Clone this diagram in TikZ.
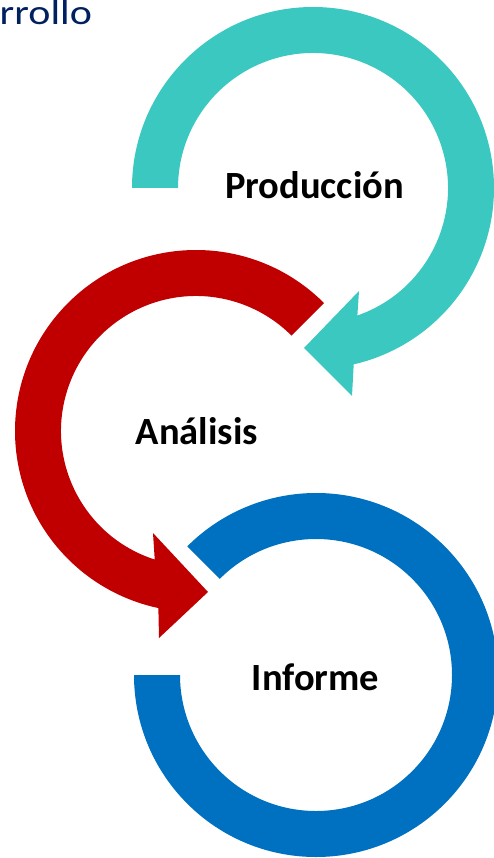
\documentclass[tikz,border=0pt]{standalone}
\usepackage{fontspec}
\setmainfont{Carlito}
\usetikzlibrary{calc}
\definecolor{tealc}{HTML}{3BC8C0}
\definecolor{redc}{HTML}{C00000}
\definecolor{bluec}{HTML}{0070C0}
\definecolor{navyc}{HTML}{002060}
\begin{document}
\begin{tikzpicture}[x=1pt,y=1pt,
  lbl/.style={font=\fontsize{38.5}{42}\selectfont\bfseries, text=black, inner sep=0pt, anchor=base}]
\useasboundingbox (0,0) rectangle (494,-858);
\clip (0,0) rectangle (494,-858);
% title fragment
\node[anchor=base west, inner sep=0pt, text=navyc, xscale=1.2, font=\fontsize{35}{38}\selectfont] (title) at (-0.5,-25) {rrollo};
% teal ring with arrow (center 313,188)
\fill[tealc] (132,-188) arc[start angle=180, end angle=-77, radius=181]
  -- (352,-396) -- (304,-348) -- (359,-291)
  -- ($(313,-188)+(-70.8:135)$) arc[start angle=-70.8, end angle=180, radius=135] -- cycle;
% red ring with arrow (center 196,431)
\fill[redc] ($(196,-431)+(45:181)$) arc[start angle=45, end angle=258, radius=181]
  -- (159,-638) -- (208,-592) -- (153,-533)
  -- ($(196,-431)+(252.2:135)$) arc[start angle=252.2, end angle=45, radius=135] -- cycle;
% blue ring (center 316,675)
\fill[bluec] ($(316,-675)+(180:182)$) arc[start angle=180, end angle=495, radius=182]
  -- ($(316,-675)+(135:136)$) arc[start angle=135, end angle=-180, radius=136] -- cycle;
% labels
\node[lbl] (prod) at (314.5,-199) {Producción};
\node[lbl] (anal) at (197,-444) {Análisis};
\node[lbl] (inf) at (315.5,-690) {Informe};
\end{tikzpicture}
\end{document}
